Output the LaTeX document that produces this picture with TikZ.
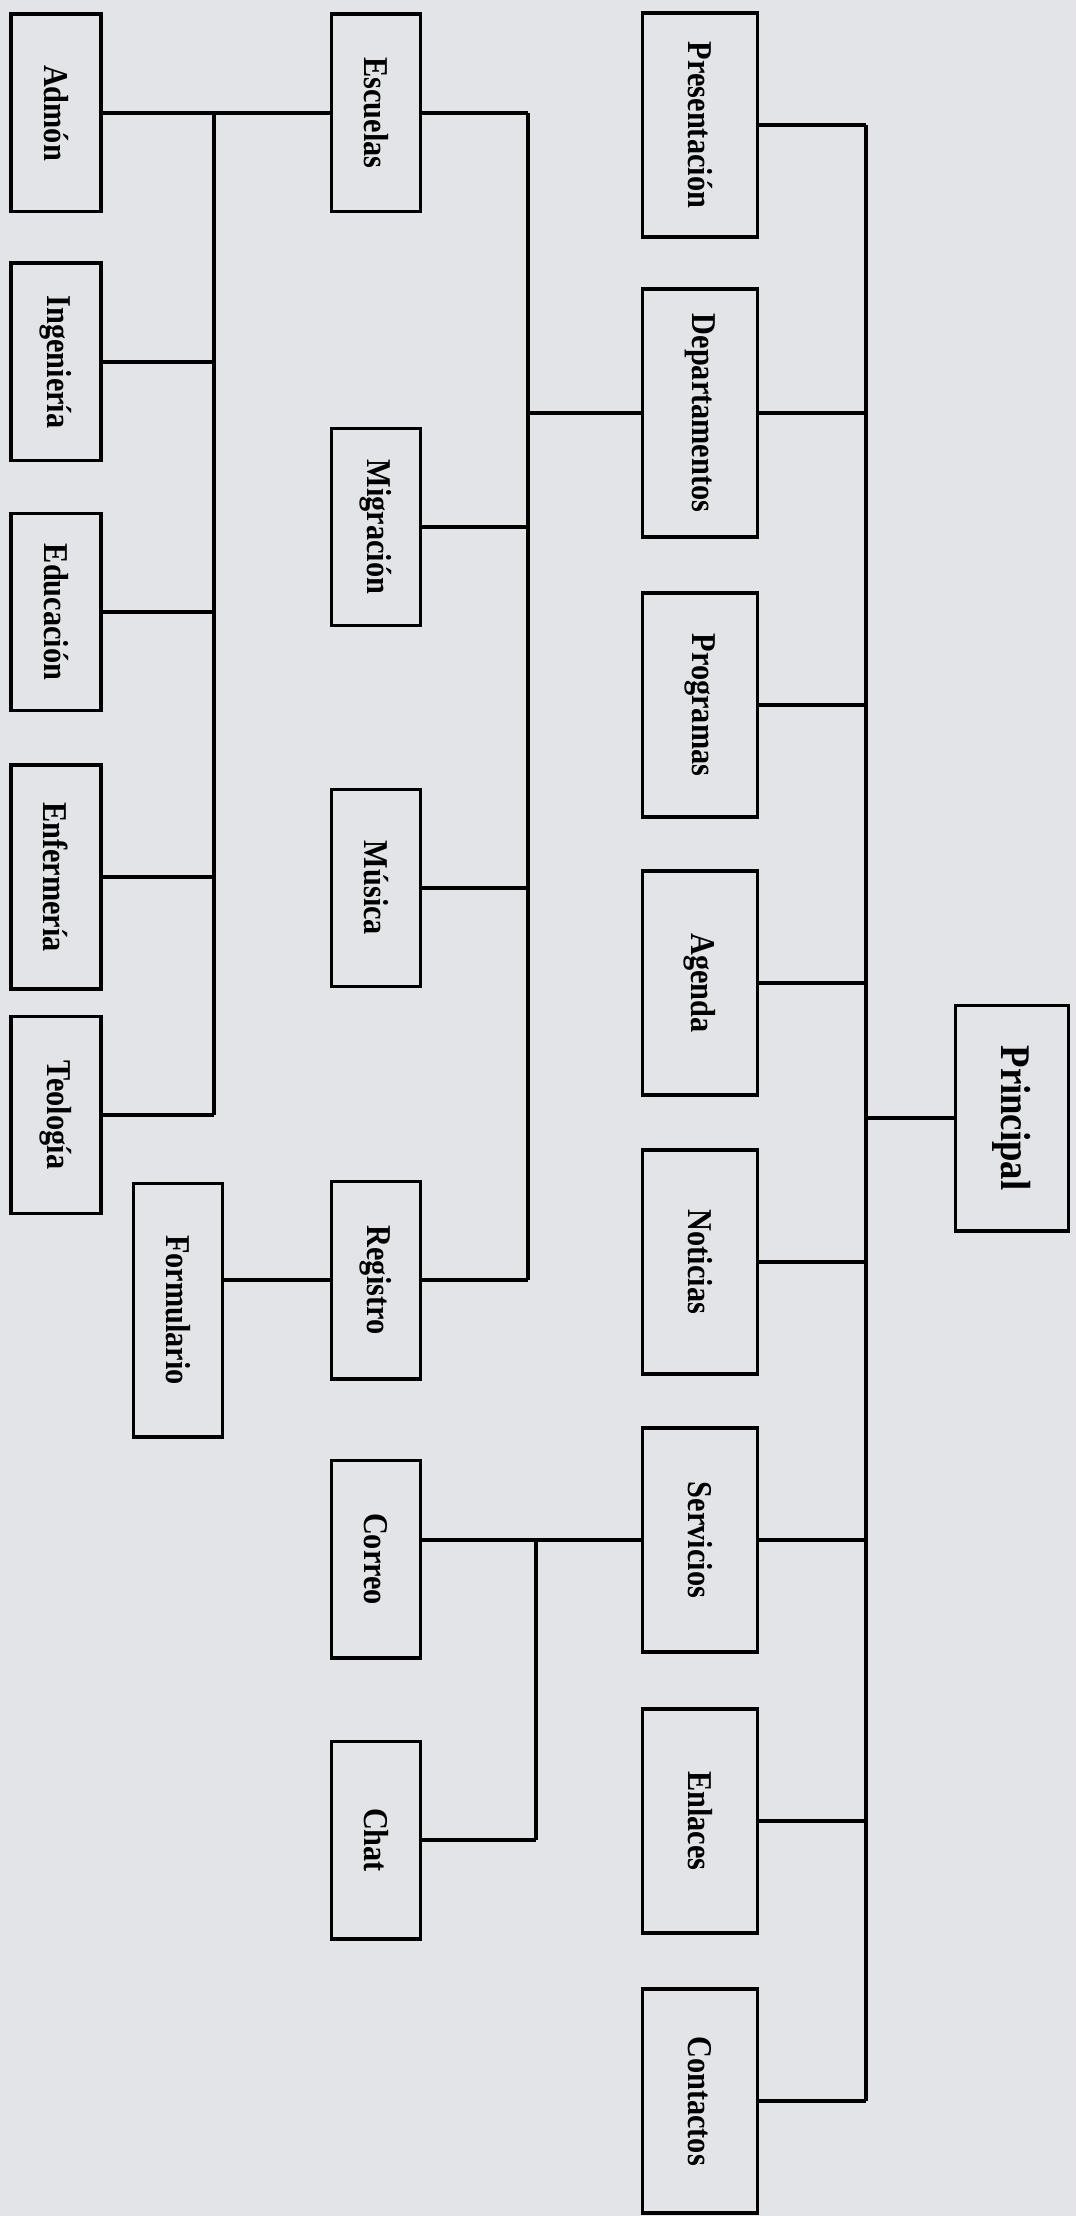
\documentclass[tikz,border=0pt]{standalone}
\usepackage{fontspec}
\setmainfont{Liberation Serif}[FakeStretch=0.87]
\usepackage{graphicx}
\usepackage{tikz}

\definecolor{paper}{RGB}{226,228,232}

\begin{document}
\begin{tikzpicture}[
        x=0.01cm, y=-0.01cm,
        box/.style={rectangle, draw, line width=1.1pt, inner sep=0pt, minimum width=0.89cm, minimum height=1.97cm, font=\bfseries\fontsize{9.9}{11}\selectfont},
        page_box/.style={box, minimum width=1.15cm, minimum height=2.24cm},
        main_box/.style={page_box, minimum width=1.13cm, minimum height=2.25cm, font=\bfseries\fontsize{12}{14}\selectfont},
        link/.style={line width=0.9pt}
    ]
    \fill[paper] (0,0) rectangle (1076,2216);
    \useasboundingbox (0,0) rectangle (1076,2216);

    % pages of the site
    \node[main_box] (principal) at (1012,1118) {\rotatebox{-90}{Principal}};
    \node[page_box] (presentacion) at (700,125) {\rotatebox{-90}{Presentación}};
    \node[page_box, minimum height=2.48cm] (departamentos) at (700,413) {\rotatebox{-90}{Departamentos}};
    \node[page_box] (programas) at (700,705) {\rotatebox{-90}{Programas}};
    \node[page_box] (agenda) at (700,983) {\rotatebox{-90}{Agenda}};
    \node[page_box] (noticias) at (700,1262) {\rotatebox{-90}{Noticias}};
    \node[page_box] (servicios) at (700,1540) {\rotatebox{-90}{Servicios}};
    \node[page_box] (enlaces) at (700,1821) {\rotatebox{-90}{Enlaces}};
    \node[page_box] (contactos) at (700,2101) {\rotatebox{-90}{Contactos}};

    % second level
    \node[box] (escuelas) at (376,113) {\rotatebox{-90}{Escuelas}};
    \node[box] (migracion) at (376,527) {\rotatebox{-90}{Migración}};
    \node[box] (musica) at (376,888) {\rotatebox{-90}{Música}};
    \node[box] (registro) at (376,1280) {\rotatebox{-90}{Registro}};
    \node[box] (correo) at (376,1559) {\rotatebox{-90}{Correo}};
    \node[box] (chat) at (376,1840) {\rotatebox{-90}{Chat}};
    \node[box, minimum height=2.53cm] (formulario) at (178,1310) {\rotatebox{-90}{Formulario}};

    % schools
    \node[box, minimum width=0.9cm] (admon) at (56,113) {\rotatebox{-90}{Admón}};
    \node[box, minimum width=0.9cm] (ingenieria) at (56,362) {\rotatebox{-90}{Ingeniería}};
    \node[box, minimum width=0.9cm] (educacion) at (56,612) {\rotatebox{-90}{Educación}};
    \node[box, minimum width=0.9cm, minimum height=2.24cm] (enfermeria) at (56,877) {\rotatebox{-90}{Enfermería}};
    \node[box, minimum width=0.9cm] (teologia) at (56,1115) {\rotatebox{-90}{Teología}};

    \coordinate (main_bus) at (866,0);
    \coordinate (dept_bus) at (528,0);
    \coordinate (serv_bus) at (536,0);
    \coordinate (esc_bus) at (214,0);

    % Principal
    \draw[link] (principal.west) -- (principal.west -| main_bus);
    \draw[link] (presentacion.east -| main_bus) -- (contactos.east -| main_bus);
    \foreach \n in {presentacion,departamentos,programas,agenda,noticias,servicios,enlaces,contactos}
        \draw[link] (\n.east) -- (\n.east -| main_bus);

    % Departamentos
    \draw[link] (departamentos.west) -- (departamentos.west -| dept_bus);
    \draw[link] (escuelas.east -| dept_bus) -- (registro.east -| dept_bus);
    \foreach \n in {escuelas,migracion,musica,registro}
        \draw[link] (\n.east) -- (\n.east -| dept_bus);
    \draw[link] (registro.west) -- (registro.west -| formulario.east);

    % Escuelas
    \draw[link] (escuelas.west) -- (admon.east);
    \draw[link] (admon.east -| esc_bus) -- (teologia.east -| esc_bus);
    \foreach \n in {ingenieria,educacion,enfermeria,teologia}
        \draw[link] (\n.east) -- (\n.east -| esc_bus);

    % Servicios
    \draw[link] (servicios.west) -- (servicios.west -| correo.east);
    \draw[link] (servicios.west -| serv_bus) -- (chat.east -| serv_bus);
    \draw[link] (chat.east) -- (chat.east -| serv_bus);
\end{tikzpicture}
\end{document}
